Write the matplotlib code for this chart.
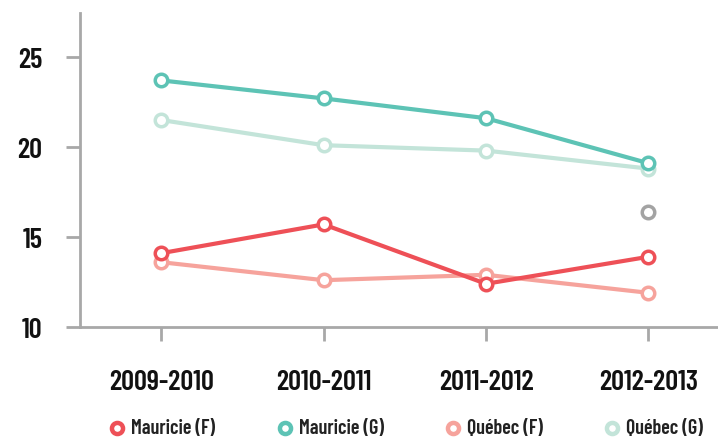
import matplotlib
matplotlib.use("Agg")
import matplotlib.pyplot as plt
from matplotlib.lines import Line2D
from matplotlib import font_manager as fm

categories = ["2009-2010", "2010-2011", "2011-2012", "2012-2013"]
mauricie_f = [14.1, 15.7, 12.4, 13.9]
mauricie_g = [23.7, 22.7, 21.6, 19.1]
quebec_f = [13.6, 12.6, 12.9, 11.9]
quebec_g = [21.5, 20.1, 19.8, 18.8]
grey_point_value = 16.4
yticks = [10, 15, 20, 25]

series = [
    ("Québec (G)", quebec_g, "#C3E4D9"),
    ("Québec (F)", quebec_f, "#F6A39C"),
    ("Mauricie (G)", mauricie_g, "#5DC3B5"),
    ("Mauricie (F)", mauricie_f, "#EE5057"),
]

names = {f.name for f in fm.fontManager.ttflist}
prefs = ["Barlow Condensed", "Roboto Condensed", "Oswald", "Saira ExtraCondensed", "Archivo Narrow"]
chosen = next((p for p in prefs if p in names), None)
FONT = ([chosen] if chosen else []) + ["DejaVu Sans"]
STRETCH = "condensed"
WEIGHT = "semibold" if chosen == "Barlow Condensed" else "bold"

fig = plt.figure(figsize=(7.18, 4.39), dpi=100)
ax = fig.add_axes([80/718, 1-328/439, 1-80/718, (328-14)/439])

x = list(range(len(categories)))
for name, vals, col in series:
    ax.plot(x, vals, color=col, lw=3, marker="o", markersize=9,
            markerfacecolor="white", markeredgecolor=col, markeredgewidth=2.5,
            zorder=3, clip_on=False)
ax.plot([x[-1]], [grey_point_value], linestyle="none", marker="o", markersize=9,
        markerfacecolor="white", markeredgecolor="#A3A3A3", markeredgewidth=2.5, zorder=4)

ax.set_xlim(-0.5, (718-80)/162.4 - 0.5)
ax.set_ylim(10, 10 + (328-14)/18)
ax.set_xticks(x)
ax.set_xticklabels(categories)
ax.set_yticks(yticks)
for s in ["top", "right"]:
    ax.spines[s].set_visible(False)
for s in ["left", "bottom"]:
    ax.spines[s].set_color("#A8A8A8")
    ax.spines[s].set_linewidth(2)
ax.tick_params(axis="both", colors="#A8A8A8", width=2, length=10)
ax.tick_params(axis="x", pad=20)
ax.tick_params(axis="y", pad=17)
for lab in ax.get_xticklabels() + ax.get_yticklabels():
    lab.set_family(FONT)
    lab.set_fontstretch(STRETCH)
    lab.set_fontweight(WEIGHT)
    lab.set_fontsize(20.5)
    lab.set_color("#111111")

legend_order = [("Mauricie (F)", "#EE5057"), ("Mauricie (G)", "#5DC3B5"),
                ("Québec (F)", "#F6A39C"), ("Québec (G)", "#C3E4D9")]
marker_x = [117, 285, 453, 612]
ly = 1 - 429/439
for (name, col), mx in zip(legend_order, marker_x):
    fig.add_artist(Line2D([mx/718], [ly], transform=fig.transFigure, linestyle="none",
                          marker="o", markersize=8, markerfacecolor="white",
                          markeredgecolor=col, markeredgewidth=3.2))
    fig.text((mx+14)/718, ly, name, ha="left", va="center", family=FONT,
             fontstretch=STRETCH, fontweight=WEIGHT, fontsize=14.5, color="#222222")

fig.savefig("out.png", dpi=100)
